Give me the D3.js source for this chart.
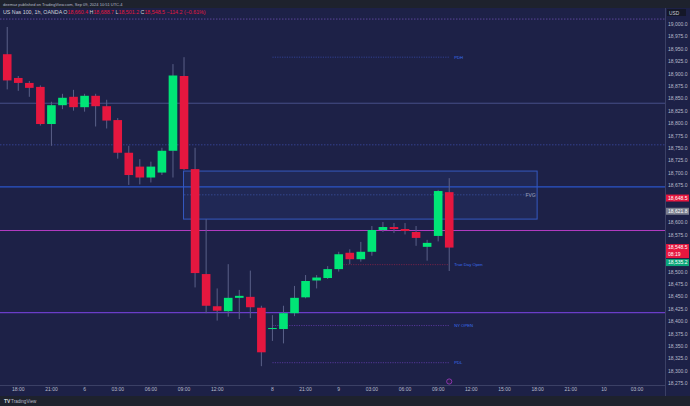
<!DOCTYPE html>
<html><head><meta charset="utf-8">
<script src="https://cdn.jsdelivr.net/npm/d3@7"></script>
<style>
html,body{margin:0;padding:0;background:#1e222d;}
svg{display:block;font-family:"Liberation Sans",Arial,sans-serif;}
</style></head><body>
<svg id="c" width="690" height="406"></svg>
<script>
// ---------- DATA ----------
const candleTimes = [
 "09-05 16:00","09-05 18:00","09-05 19:00","09-05 20:00","09-05 21:00","09-05 22:00","09-05 23:00",
 "09-06 00:00","09-06 01:00","09-06 02:00","09-06 03:00","09-06 04:00","09-06 05:00","09-06 06:00",
 "09-06 07:00","09-06 08:00","09-06 09:00","09-06 10:00","09-06 11:00","09-06 12:00","09-06 13:00",
 "09-06 14:00","09-06 15:00","09-06 16:00",
 "09-08 18:00","09-08 19:00","09-08 20:00","09-08 21:00","09-08 22:00","09-08 23:00",
 "09-09 00:00","09-09 01:00","09-09 02:00","09-09 03:00","09-09 04:00","09-09 05:00","09-09 06:00",
 "09-09 07:00","09-09 08:00","09-09 09:00","09-09 10:00"];
const futureTimes = [
 "09-09 11:00","09-09 12:00","09-09 13:00","09-09 14:00","09-09 15:00","09-09 16:00","09-09 17:00",
 "09-09 18:00","09-09 19:00","09-09 20:00","09-09 21:00","09-09 22:00","09-09 23:00",
 "09-10 00:00","09-10 01:00","09-10 02:00","09-10 03:00","09-10 04:00","09-10 05:00"];
const opens  = [18939,18891,18881,18873,18798,18836,18853,18832,18855,18834,18806,18740,18712,18690,18700,18744,18895,18707,18495,18430,18420,18447,18449,18427,
                18384,18384,18416,18448,18482,18487,18505,18538,18525,18540,18584,18590,18586,18580,18550,18572,18660.4];
const highs  = [18994,18895,18885,18876,18843,18859,18867,18859,18859,18847,18810,18754,18727,18722,18750,18919,18933,18750,18606,18466,18515,18463,18502,18431,
                18412,18431,18471,18493,18493,18511,18540,18545,18560,18592,18600,18598,18598,18592,18564,18665,18688.7];
const lows   = [18868,18865,18853,18795,18754,18828,18825,18823,18793,18789,18728,18675,18676,18680,18695,18690,18705,18468,18416,18401,18409,18404,18406,18309,
                18360,18355,18410,18446,18466,18485,18500,18515,18520,18532,18580,18578,18575,18552,18522,18561,18501.2];
const closes = [18886,18881,18871,18798,18836,18851,18832,18855,18834,18805,18740,18695,18690,18712,18744,18896,18707,18497,18431,18421,18447,18451,18428,18337,
                18386,18416,18447,18481,18488,18505,18535,18525,18540,18584,18590,18586,18582,18568,18558,18662.7,18548.5];

const priceTicks = [19000,18975,18950,18925,18900,18875,18850,18825,18800,18775,18750,18725,18700,18675,18650,18625,18600,18575,18550,18525,18500,18475,18450,18425,18400,18375,18350,18325,18300,18275];
const timeTickKeys   = ["09-05 18:00","09-05 21:00","09-06 00:00","09-06 03:00","09-06 06:00","09-06 09:00","09-06 12:00","09-08 18:00","09-08 21:00","09-09 00:00","09-09 03:00","09-09 06:00","09-09 09:00","09-09 12:00","09-09 15:00","09-09 18:00","09-09 21:00","09-10 00:00","09-10 03:00"];
const timeTickLabels = ["18:00","21:00","6","03:00","06:00","09:00","12:00","8","21:00","9","03:00","06:00","09:00","12:00","15:00","18:00","21:00","10","03:00"];

// full-width levels
const levelValues = [19010, 18840, 18756, 18671, 18583, 18417];
const levelStyles = ["dotPurple","solidGrey","dotBlue","solidBlue","solidMagenta","solidViolet"];
// short labelled levels
const keyLevelNames  = ["PDH","True Day Open","NY OPEN","PDL"];
const keyLevelValues = [18933, 18514, 18391, 18316];
const keyLevelStart  = ["09-08 18:00","09-09 00:00","09-08 18:00","09-08 18:00"];
const keyLevelEnd    = "09-09 10:00";
// FVG zone
const fvgTop = 18703, fvgBottom = 18606, fvgMid = 18655;
const fvgStart = "09-06 09:00", fvgEnd = "09-09 18:00";
// axis price labels
const axisLabelValues = [18648.5, 18621.8, 18548.5, 18535.2];
const axisLabelKinds  = ["red","grey","redTimer","green"];
const countdown = "08:19";

// ---------- DRAW ----------
const W = 690, H = 406, plotR = 665, plotT = 8, plotB = 385;
const svg = d3.select("#c");
const slots = candleTimes.concat(futureTimes);
const x = d3.scaleBand().domain(slots).range([1.7, 664.7]).padding(0);
const y = d3.scaleLinear().domain([18275, 19000]).range([383, 24]);
const cx = k => x(k) + x.bandwidth()/2;

const C = {bg:"#1d2147", up:"#00e676", down:"#e5173f", wick:"#5a6088", txt:"#b8bccb"};

svg.append("rect").attr("width",W).attr("height",H).attr("fill","#1e222d");
svg.append("rect").attr("x",0).attr("y",plotT).attr("width",W).attr("height",plotB-plotT+11).attr("fill",C.bg);

svg.append("defs").append("clipPath").attr("id","pc").append("rect")
  .attr("x",0).attr("y",plotT).attr("width",plotR).attr("height",plotB-plotT);
const g = svg.append("g").attr("clip-path","url(#pc)");

// full width levels
const styleMap = {
  dotPurple:{c:"#6c4fb0",w:0.8,d:"1.5,1.5"},
  solidGrey:{c:"#47508a",w:1,d:null},
  dotBlue:{c:"#34418f",w:1,d:"1.5,1.5"},
  solidBlue:{c:"#2a55c8",w:1.3,d:null},
  solidMagenta:{c:"#b43cc2",w:1,d:null},
  solidViolet:{c:"#6a3dc8",w:1.3,d:null}
};
levelValues.forEach((v,i)=>{
  const s = styleMap[levelStyles[i]];
  g.append("line").attr("x1",0).attr("x2",plotR).attr("y1",y(v)).attr("y2",y(v))
   .attr("stroke",s.c).attr("stroke-width",s.w).attr("stroke-dasharray",s.d);
});

// FVG box
g.append("rect").attr("x",cx(fvgStart)-0.5).attr("y",y(fvgTop))
  .attr("width",cx(fvgEnd)-cx(fvgStart)).attr("height",y(fvgBottom)-y(fvgTop))
  .attr("fill","rgba(60,90,190,0.12)").attr("stroke","#3559c0").attr("stroke-width",1);
g.append("line").attr("x1",cx(fvgStart)).attr("x2",cx(fvgEnd)).attr("y1",y(fvgMid)).attr("y2",y(fvgMid))
  .attr("stroke","#3a4f9e").attr("stroke-width",0.8).attr("stroke-dasharray","1.5,1.5");
g.append("text").attr("x",cx(fvgEnd)-7).attr("y",y(fvgMid)+1.8).attr("fill","#9aa0b8")
  .attr("font-size",5).attr("text-anchor","middle").text("FVG");

// key levels
const klColors = ["#34449a","#7a2548","#5a3aa0","#5a3aa0"];
keyLevelNames.forEach((n,i)=>{
  const yy = y(keyLevelValues[i]);
  g.append("line").attr("x1",cx(keyLevelStart[i])).attr("x2",cx(keyLevelEnd)).attr("y1",yy).attr("y2",yy)
   .attr("stroke",klColors[i]).attr("stroke-width",0.9).attr("stroke-dasharray","1.2,1.2");
  g.append("text").attr("x",cx(keyLevelEnd)+5).attr("y",yy+1.6).attr("fill","#3a6df0")
   .attr("font-size",4.2).text(n);
});

// candles
const bw = x.bandwidth()*0.78;
candleTimes.forEach((t,i)=>{
  const o=opens[i], h=highs[i], l=lows[i], c=closes[i];
  const col = c>=o ? C.up : C.down;
  const X = cx(t);
  g.append("line").attr("x1",X).attr("x2",X).attr("y1",y(h)).attr("y2",y(l))
   .attr("stroke",C.wick).attr("stroke-width",1);
  const top = y(Math.max(o,c)), bot = y(Math.min(o,c));
  g.append("rect").attr("x",X-bw/2).attr("y",top).attr("width",bw).attr("height",Math.max(1,bot-top))
   .attr("fill",col);
});

// price label boxes (compute positions first)
const boxes = [];
let lastBottom = -Infinity;
axisLabelValues.forEach((v,i)=>{
  const k = axisLabelKinds[i];
  const hgt = k==="redTimer" ? 14 : 7;
  let top = y(v)-3.5;
  if (top < lastBottom+1) top = lastBottom+1;
  lastBottom = top+hgt;
  boxes.push({v,k,top,hgt});
});

// right axis
svg.append("line").attr("x1",plotR+0.5).attr("x2",plotR+0.5).attr("y1",plotT).attr("y2",396)
  .attr("stroke","#3b4065").attr("stroke-width",1);
const visibleTicks = priceTicks.filter(t=>{
  const yy = y(t);
  return !boxes.some(b=> yy+2.5 > b.top && yy-2.5 < b.top+b.hgt);
});
const ya = svg.append("g").attr("transform",`translate(${plotR+2},0)`)
  .call(d3.axisRight(y).tickValues(visibleTicks).tickFormat(d3.format(",.1f")).tickSize(0).tickPadding(1));
ya.select(".domain").remove();
ya.selectAll("text").attr("fill",C.txt).attr("font-size",5).attr("font-family","Liberation Sans, Arial, sans-serif");

// USD box
svg.append("rect").attr("x",667).attr("y",9).attr("width",19).attr("height",7).attr("fill","#141728");
svg.append("text").attr("x",669).attr("y",14.5).attr("fill","#c9ccd6").attr("font-size",4.8).text("USD");

const kindFill = {red:"#e5173f",grey:"#7a7e8e",redTimer:"#e5173f",green:"#0ba67a"};
boxes.forEach(b=>{
  svg.append("rect").attr("x",plotR+1).attr("y",b.top).attr("width",23).attr("height",b.hgt).attr("fill",kindFill[b.k]);
  svg.append("text").attr("x",plotR+3).attr("y",b.top+5.2).attr("fill","#ffffff").attr("font-size",5)
    .text(d3.format(",.1f")(b.v));
  if (b.k==="redTimer") svg.append("text").attr("x",plotR+3).attr("y",b.top+12).attr("fill","#ffffff")
    .attr("font-size",5).text(countdown);
});

// bottom time axis
svg.append("line").attr("x1",0).attr("x2",plotR).attr("y1",plotB+0.5).attr("y2",plotB+0.5)
  .attr("stroke","#3b4065").attr("stroke-width",1);
const labelOf = Object.fromEntries(timeTickKeys.map((k,i)=>[k,timeTickLabels[i]]));
const xa = svg.append("g").attr("transform",`translate(0,${plotB+1})`)
  .call(d3.axisBottom(x).tickValues(timeTickKeys).tickFormat(k=>labelOf[k]).tickSize(0).tickPadding(1.5));
xa.select(".domain").remove();
xa.selectAll("text").attr("fill",C.txt).attr("font-size",5).attr("font-family","Liberation Sans, Arial, sans-serif");

// event marker
svg.append("circle").attr("cx",cx("09-09 10:00")).attr("cy",381.5).attr("r",2.6)
  .attr("fill","#2a1f4a").attr("stroke","#a23bc4").attr("stroke-width",0.8);

// bottom brand strip
svg.append("rect").attr("x",0).attr("y",396).attr("width",W).attr("height",10).attr("fill","#1e222d");
svg.append("text").attr("x",4).attr("y",403).attr("fill","#d1d4dc").attr("font-size",5).attr("font-weight","bold").text("TV");
svg.append("text").attr("x",11).attr("y",403).attr("fill","#b8bccb").attr("font-size",4.6).text("TradingView");

// header
svg.append("rect").attr("x",0).attr("y",0).attr("width",W).attr("height",plotT).attr("fill","#1e222d");
svg.append("text").attr("x",3).attr("y",5.5).attr("fill","#b8bccb").attr("font-size",4)
  .text("deemuz published on TradingView.com, Sep 09, 2024 10:51 UTC-4");
const hdr = svg.append("text").attr("x",3).attr("y",14.2).attr("font-size",5.3).attr("fill","#d1d4dc");
hdr.append("tspan").text("US Nas 100, 1h, OANDA  O");
hdr.append("tspan").attr("fill","#e5173f").text(d3.format(",.1f")(opens[40]));
hdr.append("tspan").text(" H");
hdr.append("tspan").attr("fill","#e5173f").text(d3.format(",.1f")(highs[40]));
hdr.append("tspan").text(" L");
hdr.append("tspan").attr("fill","#e5173f").text(d3.format(",.1f")(lows[40]));
hdr.append("tspan").text(" C");
hdr.append("tspan").attr("fill","#e5173f").text(d3.format(",.1f")(closes[40]) + " −114.2 (−0.61%)");
</script>
</body></html>
